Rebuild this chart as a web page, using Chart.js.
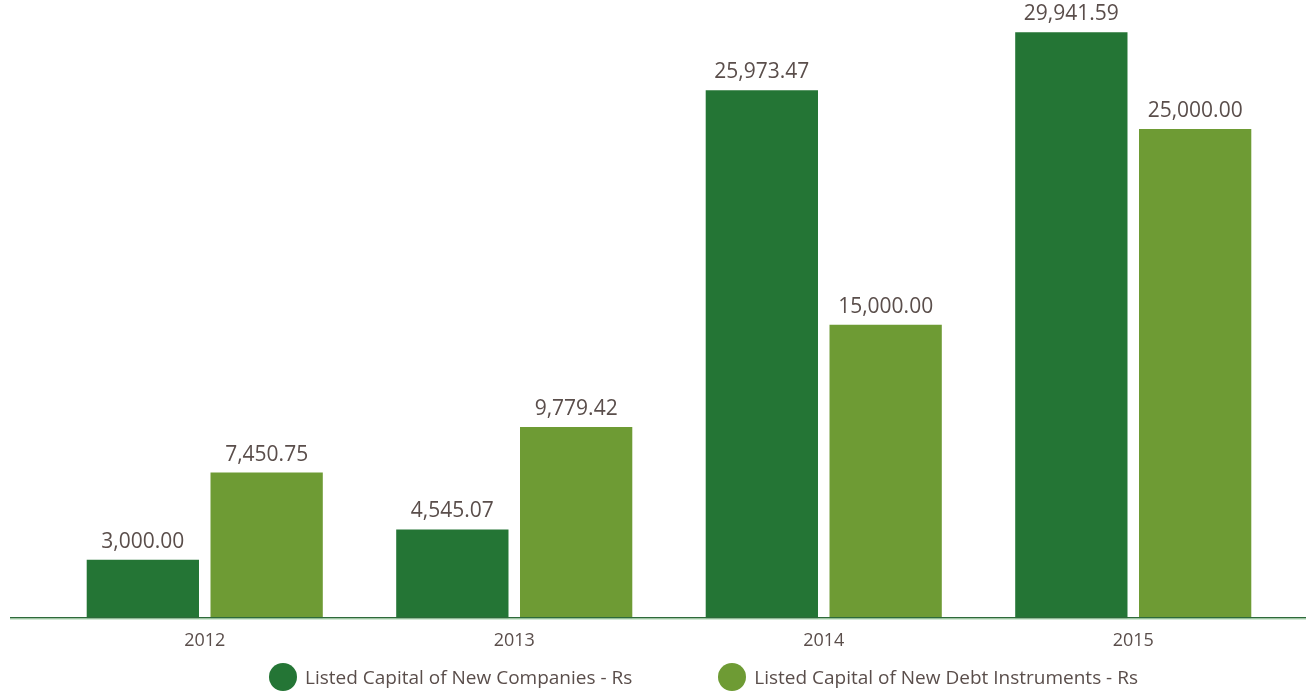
<!DOCTYPE html>
<html>
<head>
<meta charset="utf-8">
<script src="https://cdn.jsdelivr.net/npm/chart.js@4"></script>
<style>
  html, body { margin: 0; padding: 0; background: #fff; }
  .wrap { position: relative; width: 1314px; height: 693px; }
  .legend { position: absolute; left: 269px; top: 663px; display: flex; align-items: center;
            font-family: "Open Sans", sans-serif; font-size: 19px; color: #5a4e4b; }
  .legend .item { display: flex; align-items: center; margin-right: 86px; }
  .legend .dot { width: 28px; height: 28px; border-radius: 50%; margin-right: 8px; }
</style>
</head>
<body>
<div class="wrap">
  <canvas id="chart" width="1314" height="693"></canvas>
  <div class="legend" id="legend"></div>
</div>
<script>
// data (bar heights as drawn; the 2014 companies bar is drawn at ~27k while its label reads 25,973.47)
const years = ['2012', '2013', '2014', '2015'];
const companies = [3000.00, 4545.07, 26973.47, 29941.59];
const debt = [7450.75, 9779.42, 15000.00, 25000.00];
// value labels as printed on the chart
const companiesText = ['3,000.00', '4,545.07', '25,973.47', '29,941.59'];
const debtText = ['7,450.75', '9,779.42', '15,000.00', '25,000.00'];
const seriesNames = ['Listed Capital of New Companies - Rs', 'Listed Capital of New Debt Instruments - Rs'];
const colors = ['#247535', '#6e9b34'];

const textColor = '#5a4e4b';
const valueTexts = [companiesText, debtText];

// value labels above bars
const valueLabels = {
  id: 'valueLabels',
  afterDatasetsDraw(chart) {
    const ctx = chart.ctx;
    ctx.save();
    ctx.font = '21px "Open Sans", sans-serif';
    ctx.fillStyle = textColor;
    ctx.textAlign = 'center';
    ctx.textBaseline = 'alphabetic';
    chart.data.datasets.forEach((ds, i) => {
      chart.getDatasetMeta(i).data.forEach((bar, j) => {
        ctx.fillText(valueTexts[i][j], bar.x, bar.y - 12);
      });
    });
    ctx.restore();
  }
};

// baseline across the full width
const baseLine = {
  id: 'baseLine',
  afterDraw(chart) {
    const ctx = chart.ctx;
    const y = chart.scales.y.getPixelForValue(0);
    ctx.save();
    ctx.fillStyle = '#2d6a3a';
    ctx.fillRect(10, Math.round(y) - 1, 1296, 1.5);
    ctx.fillStyle = '#a8d4ac';
    ctx.fillRect(10, Math.round(y) + 0.5, 1296, 1);
    ctx.restore();
  }
};

new Chart(document.getElementById('chart'), {
  type: 'bar',
  data: {
    labels: years,
    datasets: [{
      label: seriesNames[0],
      data: companies,
      backgroundColor: colors[0]
    }, {
      label: seriesNames[1],
      data: debt,
      backgroundColor: colors[1]
    }]
  },
  options: {
    responsive: false,
    animation: false,
    categoryPercentage: 0.8,
    barPercentage: 0.907,
    layout: {
      padding: {left: 50, right: 26, top: 31, bottom: 29}
    },
    plugins: {
      legend: { display: false },
      tooltip: { enabled: false }
    },
    scales: {
      x: {
        grid: { display: false, drawTicks: false },
        border: { display: false },
        ticks: {
          color: textColor,
          padding: 12,
          font: { family: '"Open Sans", sans-serif', size: 18 }
        }
      },
      y: {
        display: false,
        min: 0,
        max: 30000
      }
    }
  },
  plugins: [valueLabels, baseLine]
});

// legend
const legend = document.getElementById('legend');
seriesNames.forEach((name, i) => {
  const item = document.createElement('div');
  item.className = 'item';
  item.innerHTML = `<span class="dot" style="background:${colors[i]}"></span><span>${name}</span>`;
  legend.appendChild(item);
});
</script>
</body>
</html>
